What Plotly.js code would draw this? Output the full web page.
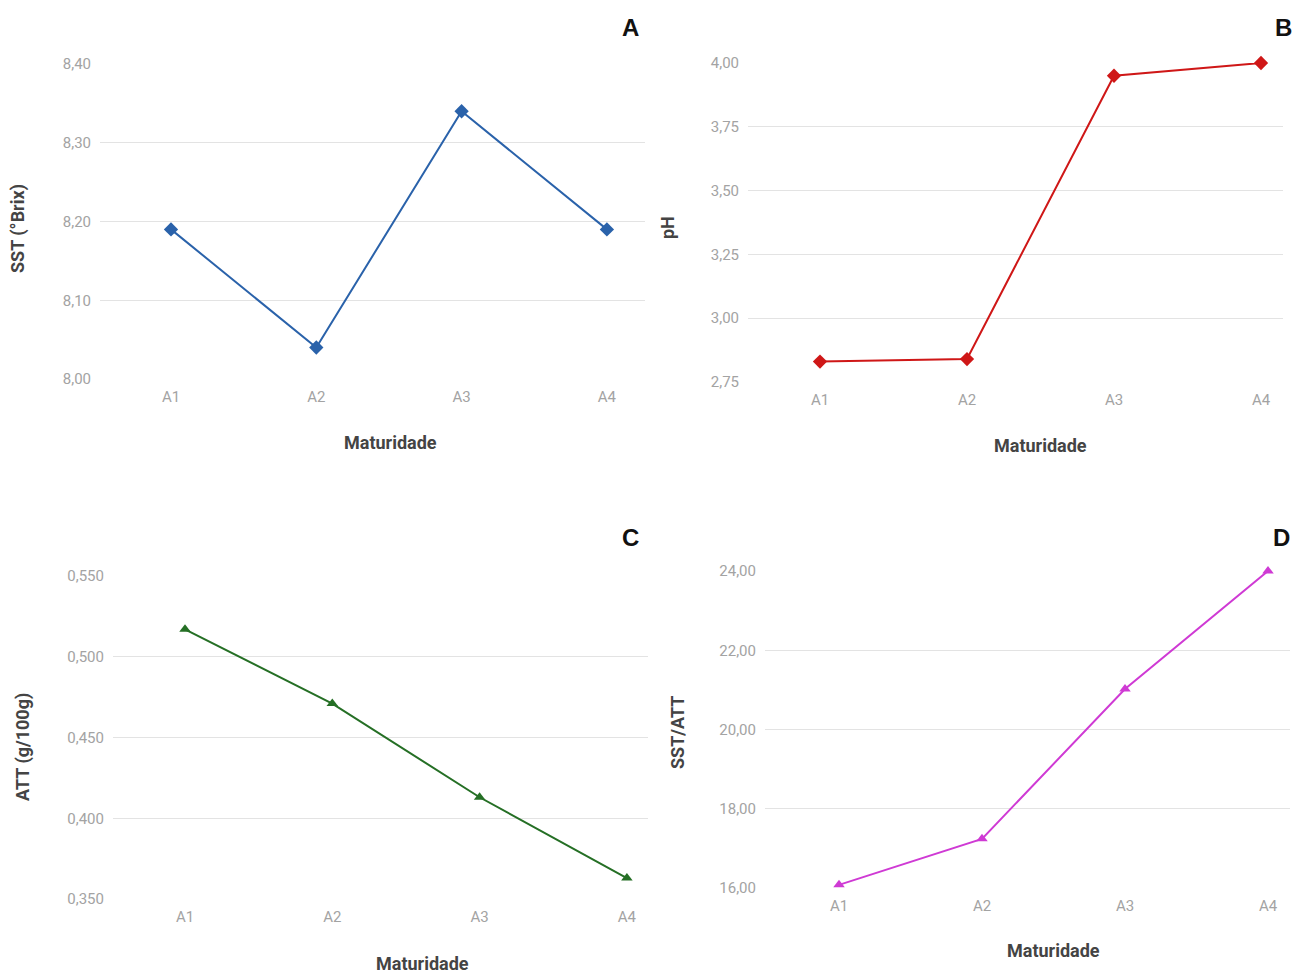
<!DOCTYPE html>
<html>
<head>
<meta charset="utf-8">
<script src="https://cdn.plot.ly/plotly-3.0.1.min.js"></script>
<style>html,body{margin:0;padding:0;background:#fff;}#chart{width:1303px;height:974px;}</style>
</head>
<body>
<div id="chart"></div>
<script>
const categories = ["A1", "A2", "A3", "A4"];
const sstValues = [8.19, 8.04, 8.34, 8.19];
const phValues = [2.83, 2.84, 3.95, 4.00];
const attValues = [0.517, 0.471, 0.413, 0.363];
const ratioValues = [16.08, 17.24, 21.02, 24.00];
const panelLetters = ["A", "B", "C", "D"];
const yTitles = ["SST (°Brix)", "pH", "ATT (g/100g)", "SST/ATT"];
const xTitle = "Maturidade";

const W = 1303, H = 974;
const px = x => x / W;
const py = y => 1 - y / H;

function trace(vals, color, symbol, size, xa, ya) {
  return {
    type: "scatter", mode: "lines+markers",
    x: categories, y: vals, xaxis: xa, yaxis: ya,
    line: {color: color, width: 2},
    marker: {color: color, symbol: symbol, size: size},
    cliponaxis: false, showlegend: false, hoverinfo: "x+y"
  };
}

const data = [
  trace(sstValues, "#2a62aa", "diamond", 11, "x", "y"),
  trace(phValues, "#cf1717", "diamond", 11, "x2", "y2"),
  trace(attValues, "#256f25", "triangle-up", 10, "x3", "y3"),
  trace(ratioValues, "#cf3ad4", "triangle-up", 10, "x4", "y4")
];

const tickFont = {family: "Roboto, sans-serif", size: 15, color: "#a3a3a3"};
function xax(l, r, a1, spacing, yanchor) {
  return {
    domain: [px(l), px(r)], anchor: yanchor, type: "category",
    range: [-(a1 - l) / spacing, 3 + (r - (a1 + 3 * spacing)) / spacing],
    showgrid: false, zeroline: false, showline: false, ticks: "",
    tickfont: tickFont, ticklabelstandoff: 7, fixedrange: true
  };
}
function yax(top, bottom, lo, hi, dt, fmt, xanchor) {
  return {
    domain: [py(bottom), py(top)], anchor: xanchor,
    range: [lo, hi], dtick: dt, tick0: lo, tickformat: fmt,
    showgrid: true, gridcolor: "#e3e3e3", gridwidth: 1,
    zeroline: false, showline: false, ticks: "",
    tickfont: tickFont, ticklabelstandoff: 8, fixedrange: true
  };
}

const layout = {
  width: W, height: H,
  margin: {l: 0, r: 0, t: 0, b: 0},
  paper_bgcolor: "#ffffff", plot_bgcolor: "#ffffff",
  separators: ",.",
  showlegend: false,
  xaxis: xax(100, 645, 171, 145.3, "y"),
  yaxis: yax(64, 379, 8.0, 8.4, 0.1, ".2f", "x"),
  xaxis2: xax(748, 1283, 820, 147, "y2"),
  yaxis2: yax(63, 382, 2.75, 4.0, 0.25, ".2f", "x2"),
  xaxis3: xax(113, 648, 185, 147.3, "y3"),
  yaxis3: yax(576, 899, 0.35, 0.55, 0.05, ".3f", "x3"),
  xaxis4: xax(765, 1290, 839, 143, "y4"),
  yaxis4: yax(571, 888, 16, 24, 2, ".2f", "x4"),
  annotations: []
};

const letterPos = [[630, 28], [1283, 28], [630, 537], [1281, 537]];
letterPos.forEach((p, i) => layout.annotations.push({
  text: "<b>" + panelLetters[i] + "</b>", xref: "paper", yref: "paper",
  x: px(p[0]), y: py(p[1]), showarrow: false, xanchor: "center", yanchor: "middle",
  font: {family: "Liberation Sans, Arial, sans-serif", size: 24, color: "#111"}
}));
const yTitlePos = [[18, 229], [667, 228], [23, 747], [677, 733]];
yTitlePos.forEach((p, i) => layout.annotations.push({
  text: "<b>" + yTitles[i] + "</b>", xref: "paper", yref: "paper",
  x: px(p[0]), y: py(p[1]), showarrow: false, textangle: -90,
  xanchor: "center", yanchor: "middle",
  font: {family: "Roboto, sans-serif", size: 18, color: "#444"}
}));
const xTitlePos = [[390, 442], [1040, 446], [422, 963], [1053, 950]];
xTitlePos.forEach(p => layout.annotations.push({
  text: "<b>" + xTitle + "</b>", xref: "paper", yref: "paper",
  x: px(p[0]), y: py(p[1]), showarrow: false,
  xanchor: "center", yanchor: "middle",
  font: {family: "Roboto, sans-serif", size: 18, color: "#444"}
}));

Plotly.newPlot("chart", data, layout, {displayModeBar: false, staticPlot: true});
</script>
</body>
</html>
